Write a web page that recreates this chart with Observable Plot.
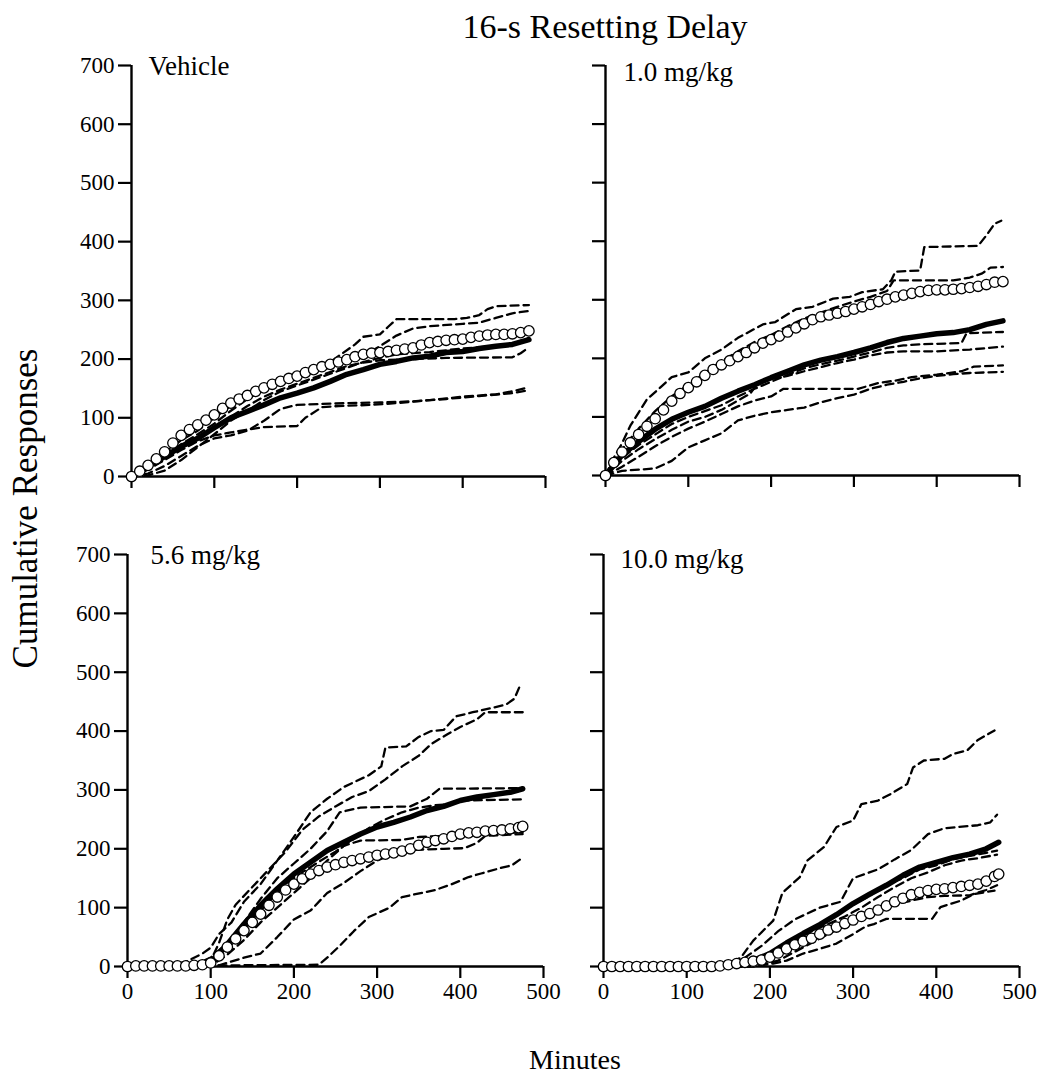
<!DOCTYPE html>
<html><head><meta charset="utf-8">
<script src="https://cdn.jsdelivr.net/npm/d3@7"></script>
<script src="https://cdn.jsdelivr.net/npm/@observablehq/plot@0.6"></script>
<style>
body{margin:0;background:#fff;}
#root{position:relative;width:1041px;height:1080px;font-family:"Liberation Serif","Times New Roman",serif;color:#000;overflow:hidden;}
.abs{position:absolute;white-space:nowrap;line-height:1;}
</style></head><body><div id="root"></div><script>
// ---------- DATA ----------
const xTicks = [0, 100, 200, 300, 400, 500];
const yTicks = [0, 100, 200, 300, 400, 500, 600, 700];
const panelLabels = ["Vehicle", "1.0 mg/kg", "5.6 mg/kg", "10.0 mg/kg"];

// minutes at which the open-circle series were read
const minutesTop = [0,10,20,30,40,50,60,70,80,90,100,110,120,130,140,150,160,170,180,190,200,210,220,230,240,250,260,270,280,290,300,310,320,330,340,350,360,370,380,390,400,410,420,430,440,450,460,470,480];
const minutesBottom = [0,10,20,30,40,50,60,70,80,90,100,110,120,130,140,150,160,170,180,190,200,210,220,230,240,250,260,270,280,290,300,310,320,330,340,350,360,370,380,390,400,410,420,430,440,450,460,470,475];

const vehicleCircles = [0,9,19,30,42,57,70,80,88,96,105,116,125,132,138,145,151,157,162,167,171,177,182,187,191,195,199,204,208,210,211,213,215,217,219,224,228,230,232,233,234,237,239,241,242,242,243,245,248];
const dose1Circles = [0,22,40,56,70,84,97,112,127,140,150,160,171,181,189,196,203,210,218,226,232,238,245,252,259,266,271,274,277,280,284,288,292,297,301,305,308,311,314,316,317,317,318,319,321,323,326,330,331];
const dose56Circles = [0,1,1,1,1,1,1,1,2,3,6,18,33,47,61,75,89,104,118,130,140,149,157,163,169,173,177,180,183,186,189,191,193,196,200,206,211,214,217,221,225,227,228,230,231,232,234,236,238];
const dose10Circles = [0,0,0,0,0,0,0,0,0,0,0,0,0,0,1,3,5,7,9,11,16,23,30,37,43,48,55,62,67,73,79,85,90,96,103,110,116,122,126,129,131,132,134,136,138,140,145,153,157];

// thick solid lines: [minute, responses]
const vehicleThick = [[0,0],[20,17],[40,34],[60,51],[80,65],[100,83],[120,100],[140,111],[160,122],[180,134],[200,142],[220,151],[240,162],[260,174],[280,182],[300,191],[320,196],[340,202],[360,205],[380,211],[400,213],[420,218],[440,222],[460,225],[480,233]];
const dose1Thick = [[0,0],[20,35],[40,58],[60,79],[80,96],[100,108],[120,118],[140,132],[160,144],[180,155],[200,167],[220,178],[240,189],[260,197],[280,203],[300,210],[320,218],[340,227],[360,234],[380,238],[400,242],[420,244],[440,249],[460,258],[480,264]];
const dose56Thick = [[0,0],[40,0],[80,1],[90,2],[100,7],[120,38],[140,72],[160,104],[180,132],[200,157],[220,177],[240,197],[260,211],[280,225],[300,237],[320,245],[340,254],[360,265],[380,272],[400,282],[420,288],[440,292],[460,296],[475,302]];
const dose10Thick = [[0,0],[140,0],[150,1],[160,4],[180,10],[200,22],[220,40],[240,56],[260,71],[280,88],[300,107],[320,123],[340,138],[360,155],[380,169],[400,177],[420,185],[440,191],[460,200],[475,211]];

// dashed individual subjects: [minute, responses]
const vehicleDashed = [
  [[0,0],[20,20],[40,40],[60,62],[80,78],[100,100],[120,120],[140,140],[160,152],[180,163],[200,172],[220,183],[240,195],[255,210],[270,225],[280,238],[300,242],[310,255],[320,268],[390,268],[405,270],[420,275],[430,285],[440,290],[480,292]],
  [[0,0],[20,15],[40,35],[60,55],[80,72],[100,90],[120,112],[140,132],[160,148],[180,160],[200,170],[220,178],[240,186],[260,197],[280,205],[300,222],[320,240],[340,252],[360,256],[400,260],[420,262],[440,270],[460,278],[480,282]],
  [[0,0],[20,12],[40,30],[60,48],[80,66],[100,85],[120,102],[140,120],[160,136],[180,148],[200,158],[220,168],[240,178],[260,188],[280,194],[300,198],[340,200],[380,202],[460,203],[470,210],[480,220]],
  [[0,0],[20,12],[40,28],[60,45],[80,60],[100,70],[120,75],[140,80],[160,84],[200,86],[210,100],[230,118],[250,120],[290,122],[320,125],[360,130],[400,136],[440,140],[460,145],[480,152]],
  [[0,0],[20,5],[40,18],[60,35],[80,52],[100,65],[120,70],[140,78],[160,95],[180,115],[200,122],[260,125],[300,126],[340,128],[380,132],[420,137],[460,142],[480,147]],
  [[0,0],[20,2],[40,10],[60,28],[80,50],[100,72],[120,95],[140,112],[160,130],[180,145],[200,155],[220,165],[240,175],[260,185],[280,195],[300,202],[320,208],[340,210],[360,212],[400,218],[440,222],[460,226],[480,236]]
];
const dose1Dashed = [
  [[0,0],[10,30],[20,55],[30,85],[50,130],[66,150],[80,168],[100,176],[120,200],[140,215],[160,235],[190,258],[205,262],[230,284],[250,288],[275,302],[295,305],[310,313],[335,318],[345,333],[350,348],[380,350],[385,390],[450,392],[460,410],[470,430],[478,435]],
  [[0,0],[10,25],[20,45],[40,80],[60,110],[80,135],[100,155],[120,175],[140,195],[160,212],[180,228],[200,240],[220,255],[240,268],[260,278],[280,288],[300,297],[320,305],[340,315],[348,333],[420,333],[440,338],[455,345],[465,355],[480,356]],
  [[0,0],[20,30],[40,52],[60,70],[80,88],[100,100],[120,110],[140,120],[160,135],[180,148],[200,160],[220,172],[240,183],[260,190],[280,196],[300,203],[320,210],[340,218],[360,222],[380,224],[430,226],[436,243],[480,245]],
  [[0,0],[20,25],[40,45],[60,62],[80,78],[100,92],[120,100],[140,112],[160,128],[175,140],[185,160],[200,165],[220,170],[240,178],[260,185],[280,192],[300,198],[320,205],[340,210],[360,212],[400,212],[440,215],[480,220]],
  [[0,0],[20,15],[40,32],[60,50],[80,66],[100,80],[120,92],[140,105],[160,118],[180,128],[200,135],[215,148],[305,148],[330,158],[350,162],[370,168],[400,172],[430,178],[445,186],[480,188]],
  [[0,0],[20,8],[40,10],[60,12],[80,25],[100,48],[120,60],[140,72],[160,94],[180,102],[200,108],[220,112],[240,116],[260,125],[280,132],[300,138],[320,148],[340,155],[360,160],[380,166],[400,170],[420,173],[440,175],[480,177]]
];
const dose56Dashed = [
  [[0,0],[50,2],[70,8],[90,22],[100,32],[110,55],[125,75],[140,110],[160,140],[180,180],[200,220],[220,262],[240,285],[260,305],[290,325],[305,340],[310,372],[335,374],[350,390],[365,400],[380,402],[395,425],[415,432],[440,440],[455,445],[465,455],[472,478]],
  [[0,0],[80,2],[100,10],[110,40],[120,80],[130,105],[150,135],[170,165],[190,195],[210,232],[230,255],[250,272],[270,288],[290,298],[310,318],[330,340],[350,358],[365,378],[385,395],[400,407],[420,420],[430,432],[475,432]],
  [[0,0],[80,3],[100,15],[120,40],[140,75],[160,115],[180,150],[200,175],[220,200],[240,230],[255,262],[280,270],[340,272],[360,285],[375,302],[475,303]],
  [[0,0],[90,2],[110,15],[130,45],[150,80],[170,110],[190,140],[210,160],[230,178],[250,195],[270,215],[290,235],[310,250],[330,262],[350,270],[370,274],[390,276],[400,282],[475,284]],
  [[0,0],[100,1],[120,20],[140,45],[160,75],[180,100],[200,125],[220,150],[240,180],[260,205],[280,214],[330,215],[350,220],[380,222],[420,225],[475,228]],
  [[0,0],[110,2],[140,15],[160,22],[180,50],[200,80],[220,95],[240,125],[260,142],[280,162],[300,180],[320,192],[340,198],[380,200],[405,201],[420,210],[430,222],[475,225]],
  [[0,0],[130,2],[230,3],[240,15],[255,35],[272,60],[290,84],[315,100],[330,118],[370,130],[390,140],[410,152],[425,158],[450,168],[462,172],[473,183]]
];
const dose10Dashed = [
  [[0,0],[145,0],[150,5],[165,15],[180,44],[204,78],[215,125],[236,152],[245,180],[265,203],[280,237],[300,248],[310,276],[330,282],[345,293],[365,310],[372,338],[385,350],[410,353],[420,361],[437,367],[450,385],[470,401]],
  [[0,0],[150,0],[170,15],[190,35],[210,60],[230,80],[260,100],[285,110],[300,150],[330,165],[350,182],[370,198],[390,225],[410,235],[450,240],[465,245],[473,258]],
  [[0,0],[160,0],[180,8],[200,20],[220,38],[240,55],[260,70],[280,88],[300,105],[320,120],[340,140],[360,150],[380,165],[400,172],[420,182],[440,188],[460,193],[473,197]],
  [[0,0],[150,0],[170,5],[190,15],[210,30],[230,45],[250,60],[270,72],[290,85],[310,100],[330,118],[350,135],[370,150],[390,160],[410,172],[430,180],[450,184],[473,190]],
  [[0,0],[170,0],[190,3],[210,10],[230,25],[250,40],[270,55],[290,70],[310,82],[330,95],[350,105],[370,112],[390,118],[410,120],[440,121],[460,130],[473,138]],
  [[0,0],[180,0],[204,5],[220,10],[240,22],[260,30],[280,39],[300,55],[315,68],[325,72],[340,81],[395,81],[405,101],[430,112],[445,123],[470,129]]
];

// ---------- LAYOUT ----------
const panels = [
  {label: panelLabels[0], dashed: vehicleDashed, thick: vehicleThick, circ: vehicleCircles, mins: minutesTop, left: 131, top: 65, w: 414, h: 411, showX: false, showY: true, ldx: 17, ldy: 9},
  {label: panelLabels[1], dashed: dose1Dashed, thick: dose1Thick, circ: dose1Circles, mins: minutesTop, left: 605, top: 65, w: 414, h: 410, showX: false, showY: false, ldx: 18, ldy: 15},
  {label: panelLabels[2], dashed: dose56Dashed, thick: dose56Thick, circ: dose56Circles, mins: minutesBottom, left: 127, top: 554, w: 416, h: 412, showX: true, showY: true, ldx: 23, ldy: 9},
  {label: panelLabels[3], dashed: dose10Dashed, thick: dose10Thick, circ: dose10Circles, mins: minutesBottom, left: 603, top: 554, w: 416, h: 412, showX: true, showY: false, ldx: 17, ldy: 13}
];
const ML = 70, MR = 14, MT = 30, MB = 50;
const root = document.getElementById("root");
const FONT = '"Liberation Serif","Times New Roman",serif';

for (const p of panels) {
  const dashedRows = p.dashed.flatMap((s, i) => s.map(([m, v]) => ({s: i, m, v})));
  const circRows = p.mins.map((m, i) => ({m, v: p.circ[i]}));
  const thickRows = p.thick.map(([m, v]) => ({m, v}));
  const svg = Plot.plot({
    width: ML + p.w + MR,
    height: MT + p.h + MB,
    marginLeft: ML, marginRight: MR, marginTop: MT, marginBottom: MB,
    style: {background: "none", fontFamily: FONT, fontSize: "23px", color: "#000", overflow: "visible"},
    x: {domain: [0, 500]},
    y: {domain: [0, 700]},
    marks: [
      Plot.axisY({ticks: yTicks, tickSize: 13, tickPadding: 4, strokeWidth: 2.2, label: null,
        tickFormat: p.showY ? (d => String(d)) : (() => ""), fontSize: 23}),
      Plot.axisX({ticks: xTicks, tickSize: 12, tickPadding: 4, strokeWidth: 2.2, label: null,
        tickFormat: p.showX ? (d => String(d)) : (() => ""), fontSize: 23}),
      Plot.ruleX([0], {strokeWidth: 2.4}),
      Plot.ruleY([0], {strokeWidth: 2.4}),
      Plot.line(dashedRows, {x: "m", y: "v", z: "s", stroke: "black", strokeWidth: 2.3, strokeDasharray: "8,5"}),
      Plot.line(thickRows, {x: "m", y: "v", stroke: "black", strokeWidth: 5.5, strokeLinejoin: "round", strokeLinecap: "round"}),
      Plot.dot(circRows, {x: "m", y: "v", r: 5.2, fill: "white", stroke: "black", strokeWidth: 1.3}),
      Plot.text([p.label], {text: d => d, frameAnchor: "top-left", textAnchor: "start", lineAnchor: "bottom",
        dx: p.ldx, dy: p.ldy, fontSize: 27, fill: "black"})
    ]
  });
  svg.style.position = "absolute";
  svg.style.left = (p.left - ML) + "px";
  svg.style.top = (p.top - MT) + "px";
  svg.style.maxWidth = "none";
  root.appendChild(svg);
}

// titles
function addText(txt, size, css) {
  const d = document.createElement("div");
  d.className = "abs";
  d.textContent = txt;
  d.style.fontSize = size + "px";
  Object.assign(d.style, css);
  root.appendChild(d);
  return d;
}
addText("16-s Resetting Delay", 34, {left: "405px", width: "400px", textAlign: "center", top: "10px"});
addText("Cumulative Responses", 35, {left: (25 - 250) + "px", width: "500px", textAlign: "center", top: (508 - 17.5) + "px", transform: "rotate(-90deg)", transformOrigin: "50% 50%"});
addText("Minutes", 28, {left: "425px", width: "300px", textAlign: "center", top: "1046px"});
</script></body></html>
